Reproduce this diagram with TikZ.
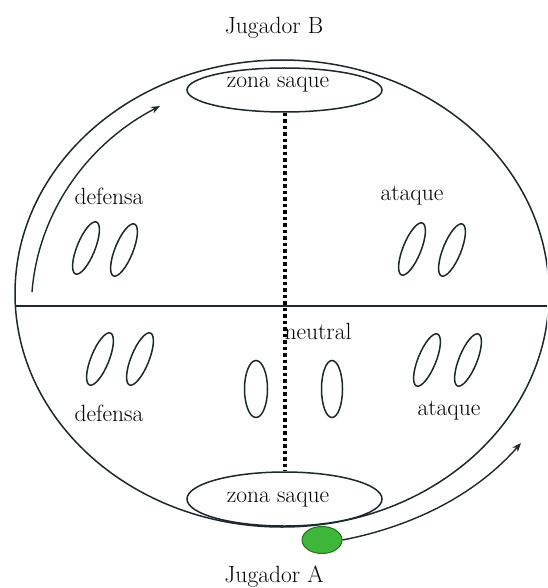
\documentclass[tikz,border=0pt]{standalone}
\usepackage{fontspec}
\usetikzlibrary{shapes.geometric,arrows.meta}
\definecolor{ink}{RGB}{28,40,44}
\definecolor{dotgreen}{RGB}{62,182,58}
\definecolor{dotedge}{RGB}{40,110,30}
\tikzset{
  lbl/.style={font=\rmfamily\fontsize{23.5}{27}\selectfont\addfontfeatures{FakeBold=0.8}, inner sep=0pt, text=black},
  zone/.style={draw=ink, line width=1.5pt, ellipse, minimum width=195pt, inner sep=0pt},
  line/.style={draw=ink, line width=1.5pt},
  oval/.style={draw=ink, line width=1.5pt},
  arr/.style={draw=ink, line width=1.4pt, -{Stealth[length=9pt,width=7pt]}},
  dotline/.style={draw=black, line width=4pt, dash pattern=on 3.5pt off 3pt},
}
\begin{document}
\begin{tikzpicture}[x=1pt,y=-1pt]
\useasboundingbox (0,0) rectangle (547,588);
\clip (0,0) rectangle (547,588);
\fill[white] (0,0) rectangle (547,588);
% field outline
\draw[line] (282,293.5) ellipse [x radius=267, y radius=233.5];
\draw[line, line width=2pt] (15,306) -- (547,306);
% serve zones
\node[zone, minimum height=44pt] (zb) at (284.5,90) {};
\node[zone, minimum height=54pt] (za) at (284.5,499) {};
\node[lbl] at (278,85) {zona saque};
\node[lbl] at (278,500) {zona saque};
\draw[dotline] (zb.south) -- (za.north);
% players labels
\node[lbl] (jb) at (274,28) {Jugador B};
\node[lbl] (ja) at (274,577) {Jugador A};
% zone labels
\node[lbl] (d1) at (109,196) {defensa};
\node[lbl] (a1) at (412,196) {ataque};
\node[lbl] (n1) at (318,331) {neutral};
\node[lbl] (d2) at (109,413) {defensa};
\node[lbl] (a2) at (449,411) {ataque};
% tilted ovals
\foreach \cx/\cy in {86/248, 124/250, 412/249, 452/250, 100/359, 140/359, 427/360, 468/360}{
  \draw[oval, rotate around={-22:(\cx,\cy)}] (\cx,\cy) ellipse [x radius=9, y radius=28];
}
% upright ovals
\draw[oval] (256,389) ellipse [x radius=11.5, y radius=28.5];
\draw[oval] (332,389) ellipse [x radius=10.5, y radius=28.5];
% player A dot
\node[ellipse, fill=dotgreen, draw=dotedge, line width=1pt, minimum width=40pt, minimum height=27pt, inner sep=0pt] (dot) at (322,540) {};
% arrows
\coordinate (la1) at (32,292);
\coordinate (la2) at (160,106);
\draw[arr] (la1) .. controls (38,215) and (85,145) .. (la2);
\coordinate (ra2) at (521,443);
\draw[arr] (dot.east) .. controls (420,525) and (480,490) .. (ra2);
\end{tikzpicture}
\end{document}
